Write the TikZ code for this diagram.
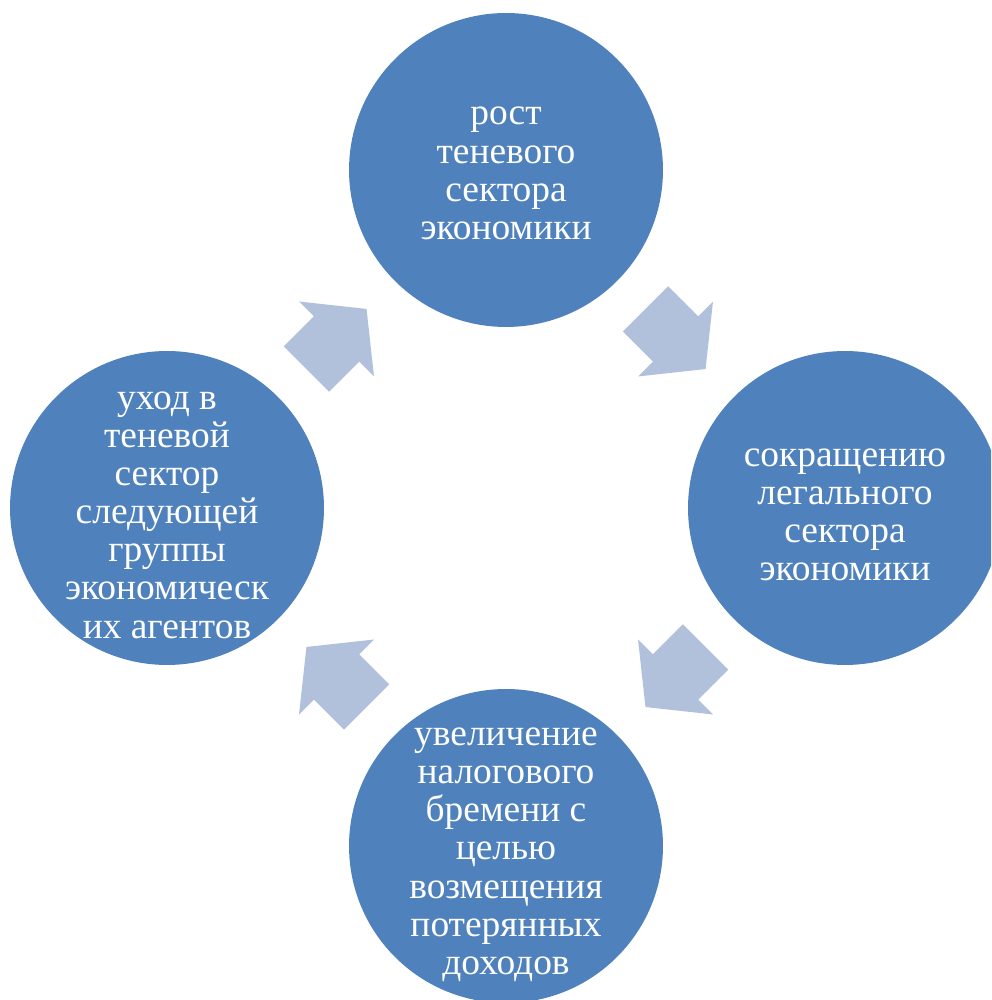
\documentclass[tikz,border=0pt]{standalone}
\usepackage{fontspec}
\setmainfont{Liberation Serif}
\usetikzlibrary{calc,positioning}
\definecolor{circblue}{RGB}{79,129,189}
\definecolor{arrowblue}{RGB}{177,193,220}

\begin{document}
\begin{tikzpicture}[x=0.02cm, y=0.02cm,
    stage/.style={circle, fill=circblue, minimum size=6.28cm, inner sep=0pt},
    stagetext/.style={text=white, align=center, inner sep=0pt, font=\fontsize{21.3}{21.7}\selectfont},
    cyclearrow/.pic={\fill[arrowblue] (-42.5,-32) -- (0,-32) -- (0,-53) -- (42.5,0) -- (0,53) -- (0,32) -- (-42.5,32) -- cycle;}]
  \useasboundingbox (0,0) rectangle (991,1000);
  \clip (0,0) rectangle (991,1000);

  \node[stage] (grow) at (506,830) {};
  \node[stage] (legal) at (845,492) {};
  \node[stage] (tax) at (506,154) {};
  \node[stage] (exit) at (167,492) {};

  \node[stagetext, yshift=-2] (growtext) at (grow) {рост\\ теневого\\ сектора\\ экономики};
  \node[stagetext, yshift=-4] (legaltext) at (legal) {сокращению\\ легального\\ сектора\\ экономики};
  \node[stagetext, yshift=-5] (taxtext) at (tax) {увеличение\\ налогового\\ бремени с\\ целью\\ возмещения\\ потерянных\\ доходов};
  \node[stagetext, yshift=-4] (exittext) at (exit) {уход в\\ теневой\\ сектор\\ следующей\\ группы\\ экономическ\\ их агентов};

  % arrows between the stages
  \pic[rotate=-45] at ($(grow)!0.5!(legal)$) {cyclearrow};
  \pic[rotate=-135] at ($(legal)!0.5!(tax)$) {cyclearrow};
  \pic[rotate=135] at ($(tax)!0.5!(exit)$) {cyclearrow};
  \pic[rotate=45] at ($(exit)!0.5!(grow)$) {cyclearrow};
\end{tikzpicture}
\end{document}
